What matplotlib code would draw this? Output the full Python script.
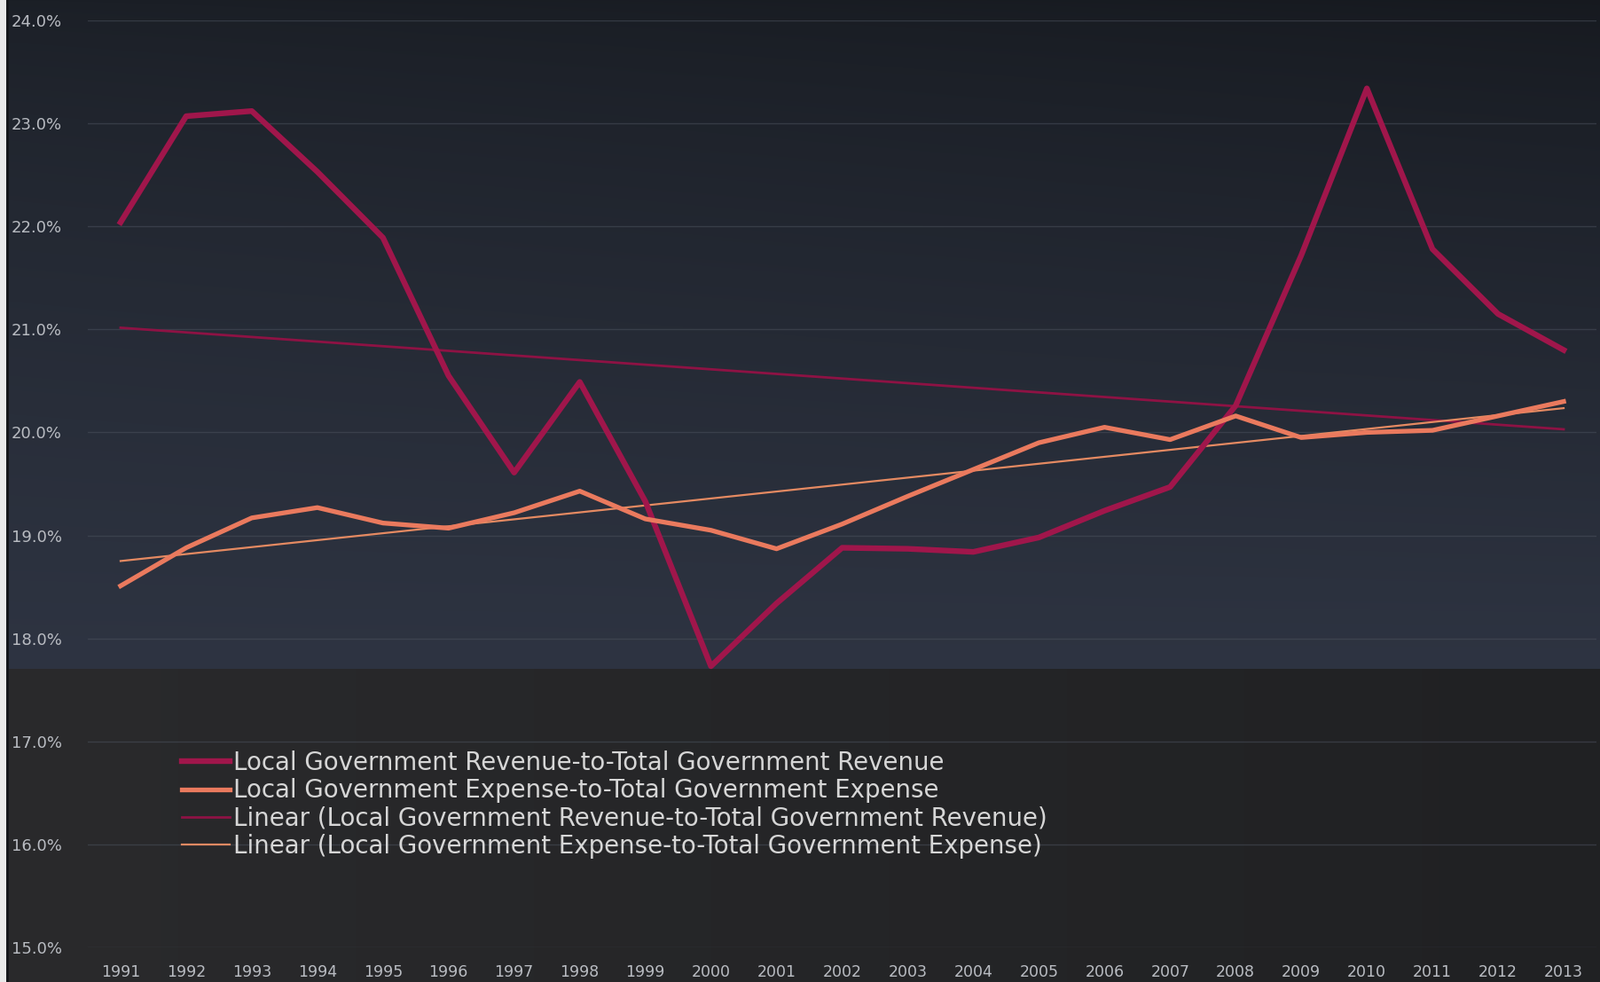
import numpy as np
import matplotlib
matplotlib.use("Agg")
import matplotlib.pyplot as plt
from matplotlib.colors import to_rgb

years = list(range(1991, 2014))
year_labels = [str(y) for y in years]
revenue_share = [22.04, 23.07, 23.12, 22.53, 21.89, 20.55, 19.61, 20.49, 19.33, 17.73,
                 18.34, 18.88, 18.87, 18.84, 18.98, 19.24, 19.47, 20.26, 21.72, 23.34,
                 21.78, 21.15, 20.80]
expense_share = [18.51, 18.88, 19.17, 19.27, 19.12, 19.07, 19.22, 19.43, 19.16, 19.05,
                 18.87, 19.11, 19.38, 19.64, 19.90, 20.05, 19.93, 20.16, 19.95, 20.00,
                 20.02, 20.16, 20.30]
y_ticks = [15, 16, 17, 18, 19, 20, 21, 22, 23, 24]
y_tick_labels = [f"{v:.1f}%" for v in y_ticks]
series_names = ["Local Government Revenue-to-Total Government Revenue",
                "Local Government Expense-to-Total Government Expense",
                "Linear (Local Government Revenue-to-Total Government Revenue)",
                "Linear (Local Government Expense-to-Total Government Expense)"]

W, H = 1804, 1107
DPI = 100
fig = plt.figure(figsize=(W / DPI, H / DPI), dpi=DPI)

# ---- background image ----
bg = fig.add_axes([0, 0, 1, 1], zorder=-10)
bg.set_axis_off()
yy = np.linspace(0, 1, H)[:, None]
xx = np.linspace(0, 1, W)[None, :]
top_c = np.array(to_rgb("#1b1f26"))
mid_c = np.array(to_rgb("#2e3442"))
split = 754 / H
t = np.clip(yy / split, 0, 1)
upper = top_c[None, None, :] * (1 - t[..., None] ** 0.7) + mid_c[None, None, :] * (t[..., None] ** 0.7)
upper = upper * (1 - 0.18 * xx[..., None] * (1 - t[..., None]))
low_a = np.array(to_rgb("#2a2a2c"))
low_b = np.array(to_rgb("#202123"))
lower = low_a[None, None, :] * (1 - xx[..., None]) + low_b[None, None, :] * xx[..., None]
mask = (yy < split)[..., None]
img = np.where(mask, np.broadcast_to(upper, (H, W, 3)), np.broadcast_to(lower, (H, W, 3)))
img[:, :7, :] = np.array(to_rgb("#e9e9e9"))
img[:, 7:10, :] = np.array(to_rgb("#15171b"))
bg.imshow(img, aspect="auto", extent=[0, 1, 0, 1], interpolation="bilinear")
bg.set_xlim(0, 1)
bg.set_ylim(0, 1)

# ---- main axes ----
left = 99 / W
right = 1800 / W
bottom = (H - 1068) / H
top = (H - 23) / H
ax = fig.add_axes([left, bottom, right - left, top - bottom])
ax.patch.set_alpha(0)
for s in ax.spines.values():
    s.set_visible(False)

x = np.array(years, dtype=float)
rev = np.array(revenue_share)
exp_ = np.array(expense_share)
rev_fit = np.polyval(np.polyfit(x, rev, 1), x)
exp_fit = np.polyval(np.polyfit(x, exp_, 1), x)

for yv in y_ticks:
    ax.axhline(yv, color="#4a505c", lw=1.0, alpha=0.55, zorder=0)

l3, = ax.plot(x, rev_fit, color="#8e1244", lw=2.0, zorder=2)
l4, = ax.plot(x, exp_fit, color="#e58a62", lw=1.6, zorder=2)
l1, = ax.plot(x, rev, color="#a0164b", lw=4.6, solid_joinstyle="round", zorder=3)
l2, = ax.plot(x, exp_, color="#ea7a5e", lw=3.8, solid_joinstyle="round", zorder=4)

ax.set_xlim(1990.5, 2013.5)
ax.set_ylim(15, 24)
ax.set_yticks(y_ticks)
ax.set_yticklabels(y_tick_labels)
ax.set_xticks(years)
ax.set_xticklabels(year_labels)
ax.tick_params(axis="y", length=0, pad=21, labelsize=13, labelcolor="#b9bcc2")
ax.tick_params(axis="x", length=0, pad=14, labelsize=12.5, labelcolor="#b9bcc2")

leg = ax.legend([l1, l2, l3, l4], series_names, loc="upper left",
                bbox_to_anchor=(205 / W, (H - 846) / H), bbox_transform=fig.transFigure,
                frameon=False, fontsize=19.9, handlelength=1.95, handletextpad=0.15,
                labelspacing=0.12, borderpad=0, borderaxespad=0)
for txt in leg.get_texts():
    txt.set_color("#d6d6d6")

fig.savefig("out.png", dpi=DPI)
